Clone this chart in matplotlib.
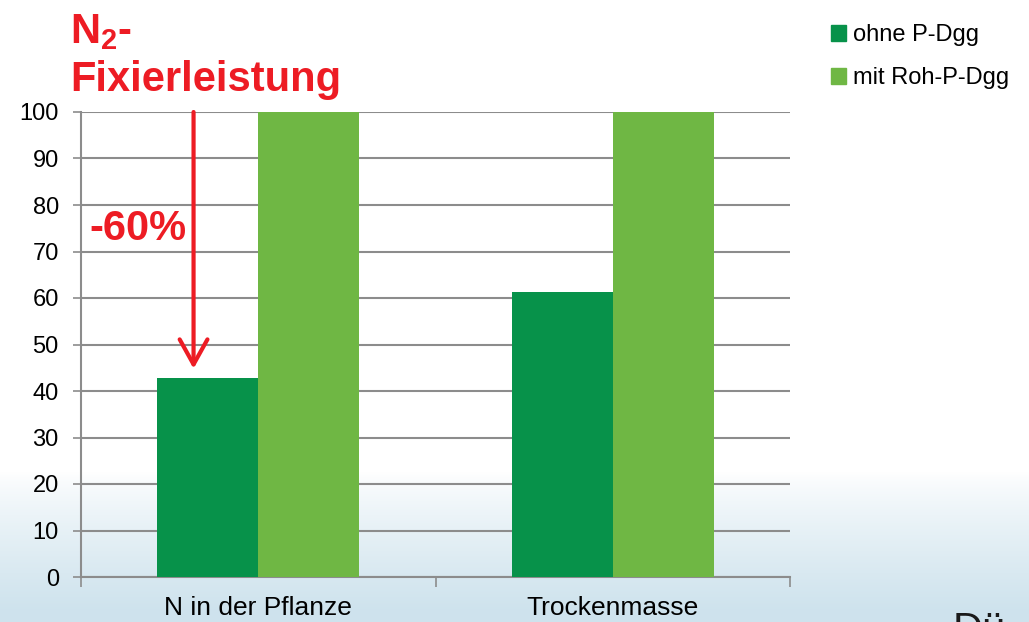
import numpy as np
import matplotlib
matplotlib.use("Agg")
from matplotlib import pyplot as plt
from matplotlib.patches import Patch

plt.rcParams['font.family'] = ['Liberation Sans', 'DejaVu Sans']
plt.rcParams['mathtext.fontset'] = 'custom'
plt.rcParams['mathtext.bf'] = 'Liberation Sans:bold'
plt.rcParams['mathtext.rm'] = 'Liberation Sans'

# data
categories = ["N in der Pflanze", "Trockenmasse"]
series_names = ["ohne P-Dgg", "mit Roh-P-Dgg"]
ohne = [42.8, 61.2]
mit_roh = [100, 100]
y_ticks = [0, 10, 20, 30, 40, 50, 60, 70, 80, 90, 100]
reduction_label = "-60%"

dark_green = "#07924a"
light_green = "#6fb744"
red = "#ed1c24"
grid_gray = "#8c8c8c"

fig = plt.figure(figsize=(10.29, 6.22), dpi=100)

# background: white fading into a pale blue at the bottom
bg_ax = fig.add_axes([0, 0, 1, 1], zorder=-10)
rows = np.linspace(0, 1, 622)
t = np.clip((rows - 0.76) / 0.22, 0, 1)[:, None] ** 0.8
top_col = np.array([1.0, 1.0, 1.0])
bot_col = np.array([0.81, 0.89, 0.93])
grad = (1 - t) * top_col + t * bot_col
bg = np.repeat(grad[:, None, :], 1029, axis=1)
bg_ax.imshow(bg, aspect='auto', extent=[0, 1, 0, 1], origin='upper')
bg_ax.axis('off')

ax = fig.add_axes([81 / 1029, 45 / 622, 709 / 1029, 465 / 622])
ax.patch.set_alpha(0)

x = np.arange(len(categories))
w = 0.285
ax.bar(x - w / 2, ohne, w, color=dark_green, zorder=3)
ax.bar(x + w / 2, mit_roh, w, color=light_green, zorder=3)

ax.set_xlim(-0.5, len(categories) - 0.5)
ax.set_ylim(0, 100)
ax.set_yticks(y_ticks)
ax.set_xticks(x)
ax.set_xticklabels(categories, fontsize=19)
ax.set_xticks(np.arange(len(categories) + 1) - 0.5, minor=True)
ax.tick_params(axis='x', which='major', length=0, pad=14)
ax.tick_params(axis='x', which='minor', length=7, width=1.2, color=grid_gray, direction='out')
ax.tick_params(axis='y', length=6, width=1.2, color=grid_gray, labelsize=17, pad=10)

ax.yaxis.grid(True, color=grid_gray, linewidth=1.5, zorder=0)
ax.set_axisbelow(True)
for s in ['top', 'right']:
    ax.spines[s].set_visible(False)
for s in ['left', 'bottom']:
    ax.spines[s].set_color(grid_gray)
    ax.spines[s].set_linewidth(1.5)

# red arrow showing the reduction
arrow_x = x[0] - w / 2 - 0.04
ax.annotate("", xy=(arrow_x, ohne[0] + 2.0), xytext=(arrow_x, 100),
            arrowprops=dict(arrowstyle="->,head_length=0.9,head_width=0.5",
                            color=red, lw=3, mutation_scale=20,
                            shrinkA=0, shrinkB=0),
            zorder=5, annotation_clip=False)
ax.text(0.012, 72.5, reduction_label, transform=ax.get_yaxis_transform(),
        color=red, fontsize=30, fontweight='bold', va='baseline', ha='left')

# title
fig.text(70 / 1029, 1 - 43 / 622, r"$\mathbf{N_2}$-", color=red, fontsize=30,
         fontweight='bold', va='baseline', ha='left')
fig.text(70 / 1029, 1 - 91 / 622, "Fixierleistung", color=red, fontsize=30,
         fontweight='bold', va='baseline', ha='left')

# legend
handles = [Patch(color=dark_green), Patch(color=light_green)]
fig.legend(handles, series_names, loc='upper left',
           bbox_to_anchor=(831 / 1029, 1 - 24 / 622), frameon=False,
           fontsize=17, handlelength=0.65, handleheight=0.65,
           handletextpad=0.3, labelspacing=0.9, borderpad=0, borderaxespad=0)

# cut-off text at the bottom right
fig.text(953 / 1029, -20 / 622, "Dü", fontsize=30, color="#1a1a1a",
         va='baseline', ha='left')

fig.savefig("out.png", dpi=100)
